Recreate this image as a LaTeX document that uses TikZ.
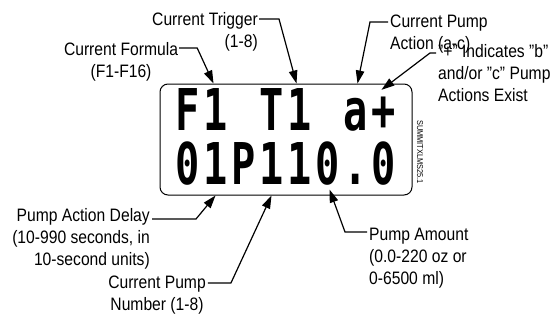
\documentclass[tikz,border=0pt]{standalone}
\usepackage{fontspec}
\setmainfont{Liberation Sans}[FakeStretch=0.87]
\newfontfamily\lcdfont{DejaVu Sans Mono}[FakeStretch=0.7]
\usepackage{tikz}
\usetikzlibrary{arrows.meta, positioning, calc}

\begin{document}
\begin{tikzpicture}[
        x=1pt, y=-1pt,
        display/.style={rectangle, draw, line width=1pt, rounded corners=8pt, minimum width=252pt, minimum height=111pt, inner sep=0pt},
        lcdchar/.style={inner sep=0pt, text height=42pt, text depth=0pt, font=\lcdfont\bfseries\fontsize{57.6}{58}\selectfont},
        callout/.style={inner sep=0pt, font=\fontsize{18}{22}\selectfont},
        leader/.style={-{Triangle[length=13pt, width=8.5pt]}, line width=1.2pt}
    ]
    \useasboundingbox (0,0) rectangle (556,321);

    \node[display] (lcd) at (286,139.5) {};
    \foreach \ch [count=\i] in {F,1,{},T,1,{},a,+}
        \node[lcdchar] (a\i) at (159.5+28*\i,109) {\ch};
    \foreach \ch [count=\i] in {0,1,P,1,1,0,.,0}
        \node[lcdchar] (b\i) at (159.5+28*\i,163.5) {\ch};
    \node[rotate=-90, inner sep=0pt, font=\fontsize{8.5}{9}\selectfont] (code) at (420,152) {SUMMITXLMS25.1};

    \node[callout, align=center, anchor=north] (formula) at (121,42) {Current Formula\\(F1-F16)};
    \node[callout, align=right, anchor=north east] (trigger) at (258,12) {Current Trigger\\(1-8)};
    \node[callout, align=left, anchor=north west] (action) at (390,15) {Current Pump\\Action (a-c)};
    \node[callout, align=left, anchor=north west] (plus) at (438,44) {"+" Indicates "b"\\and/or "c" Pump\\Actions Exist};
    \node[callout, align=right, anchor=north east] (delay) at (150,208) {Pump Action Delay\\(10-990 seconds, in\\10-second units)};
    \node[callout, align=center, anchor=north] (pumpno) at (157,276) {Current Pump\\Number (1-8)};
    \node[callout, align=left, anchor=north west] (amount) at (369,228) {Pump Amount\\(0.0-220 oz or\\0-6500 ml)};

    \draw[leader] ([xshift=1pt,yshift=-6pt]formula.north east) -- ++(18,0) -- ($(a2 |- lcd.north)+(-2,0)$);
    \draw[leader] ([xshift=1pt,yshift=-7pt]trigger.north east) -- ++(20,0) -- ($(a5 |- lcd.north)+(-3,0)$);
    \draw[leader] ([xshift=-2pt,yshift=-7pt]action.north west) -- ++(-18,0) -- ($(a7 |- lcd.north)+(2,0)$);
    \draw[leader] ([xshift=-2pt,yshift=-9pt]plus.north west) -- ++(-6,0) -- ([xshift=-2pt,yshift=-2pt]a8.north);
    \draw[leader] ([xshift=2pt,yshift=-11pt]delay.north east) -- ++(44,0) -- (b2 |- lcd.south);
    \draw[leader] ([xshift=2pt,yshift=-7pt]pumpno.north east) -- ++(23,0) -- (b4 |- lcd.south);
    \draw[leader] ([xshift=-2pt,yshift=-4pt]amount.north west) -- ++(-22,0) -- ($(b6 |- lcd.south)+(2,-6)$);

\end{tikzpicture}
\end{document}
